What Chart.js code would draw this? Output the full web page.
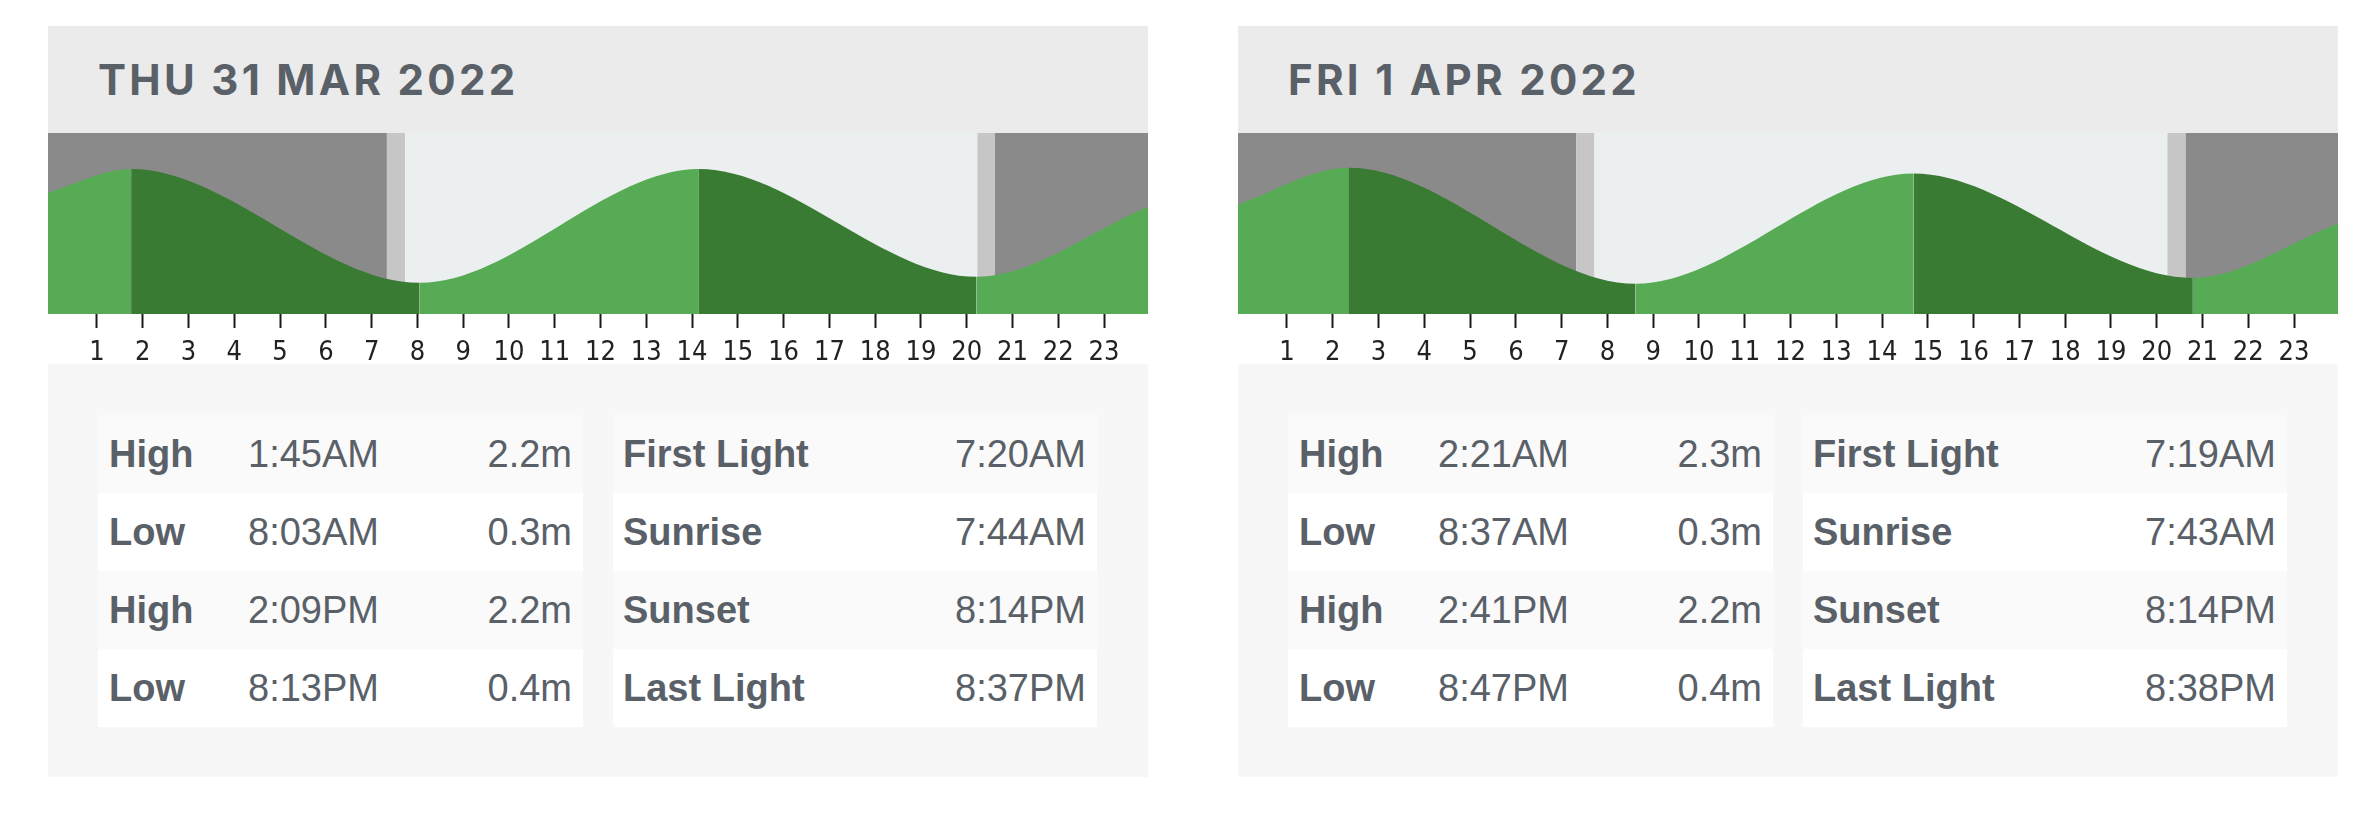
<!DOCTYPE html>
<html>
<head>
<meta charset="utf-8">
<script src="https://cdn.jsdelivr.net/npm/chart.js@4.4.1/dist/chart.umd.min.js"></script>
<style>
  body { margin: 0; background: #fff; width: 2367px; height: 816px; position: relative; overflow: hidden; }
  .day { position: absolute; top: 26px; width: 1100px; }
  .head { height: 107px; background: #ebebeb; display: flex; align-items: center; }
  .head h2 {
    margin: 0 0 0 50px; font-family: Inter, "Open Sans", sans-serif; font-weight: 700;
    font-size: 42px; letter-spacing: 3.3px; color: #5a6068;
  }
  .plot { position: relative; height: 231px; width: 1100px; background: #fff; }
  .info {
    background: #f7f7f7; height: 413px; box-sizing: border-box; padding: 51px 51px 0 50px;
    display: flex; justify-content: space-between; align-items: flex-start;
  }
  table { border-collapse: collapse; font-family: "Liberation Sans", Arial, sans-serif; font-size: 38px; color: #5a6068; }
  table.tides { width: 485px; }
  table.sun { width: 484px; }
  td { height: 78px; padding: 0; vertical-align: middle; line-height: 1; }
  tr:nth-child(odd) td { background: #fafafa; }
  tr:nth-child(even) td { background: #fff; }
  td.lbl { font-weight: bold; padding-left: 11px; }
  .tides td.lbl { width: 139px; }
  td.val { text-align: right; padding-right: 11px; }
  .sun td.lbl { padding-left: 10px; }
</style>
</head>
<body>

<div class="day" id="day1" style="left:48px">
  <div class="head"><h2 id="title1"></h2></div>
  <div class="plot"><canvas id="chart1"></canvas></div>
  <div class="info"><table class="tides" id="tides1"></table><table class="sun" id="sun1"></table></div>
</div>

<div class="day" id="day2" style="left:1238px">
  <div class="head"><h2 id="title2"></h2></div>
  <div class="plot"><canvas id="chart2"></canvas></div>
  <div class="info"><table class="tides" id="tides2"></table><table class="sun" id="sun2"></table></div>
</div>

<script>
// x axis tick labels (hours)
const hourTicks = [1, 2, 3, 4, 5, 6, 7, 8, 9, 10, 11, 12, 13, 14, 15, 16, 17, 18, 19, 20, 21, 22, 23]

// Thu 31 Mar 2022
const day1Title = "THU 31 MAR 2022"
const day1TideTypes = ["High", "Low", "High", "Low"]
const day1TideTimes = ["1:45AM", "8:03AM", "2:09PM", "8:13PM"]
const day1TideHeights = [2.2, 0.3, 2.2, 0.4]
const day1EdgeHeights = [1.80, 1.58]   // height at the left / right edge of the chart
const day1SunLabels = ["First Light", "Sunrise", "Sunset", "Last Light"]
const day1SunTimes = ["7:20AM", "7:44AM", "8:14PM", "8:37PM"]

// Fri 1 Apr 2022
const day2Title = "FRI 1 APR 2022"
const day2TideTypes = ["High", "Low", "High", "Low"]
const day2TideTimes = ["2:21AM", "8:37AM", "2:41PM", "8:47PM"]
const day2TideHeights = [2.3, 0.3, 2.2, 0.4]
const day2EdgeHeights = [1.66, 1.35]
const day2SunLabels = ["First Light", "Sunrise", "Sunset", "Last Light"]
const day2SunTimes = ["7:19AM", "7:43AM", "8:14PM", "8:38PM"]

const X_MIN = -0.07
const X_MAX = 23.96

const toHours = (s) => {
    const m = s.match(/(\d+):(\d+)(AM|PM)/)
    let h = parseInt(m[1]) % 12
    if (m[3] === "PM") h += 12
    return h + parseInt(m[2]) / 60
}

// night / twilight / day bands behind the tide
const daylightBands = {
    id: "daylightBands",
    beforeDatasetsDraw(chart, args, opts) {
        const {ctx, chartArea: a, scales: {x}} = chart
        const t = opts.times.map(toHours)
        const bands = [
            [X_MIN - 1, t[0], "#8a8a8a"],
            [t[0], t[1], "#c6c6c6"],
            [t[1], t[2], "#ebeff0"],
            [t[2], t[3], "#c6c6c6"],
            [t[3], X_MAX + 1, "#8a8a8a"]
        ]
        ctx.save()
        ctx.beginPath()
        ctx.rect(a.left, a.top, a.right - a.left, a.bottom - a.top)
        ctx.clip()
        bands.forEach(([from, to, color]) => {
            const x0 = x.getPixelForValue(from)
            const x1 = x.getPixelForValue(to)
            ctx.fillStyle = color
            ctx.fillRect(x0, a.top, x1 - x0, a.bottom - a.top)
        })
        ctx.restore()
    }
}

const create_chart = (canvasId, tideTimes, tideHeights, edgeHeights, sunTimes) => {
    const points = [{x: -0.1, y: edgeHeights[0]}]
    tideTimes.forEach((t, i) => points.push({x: toHours(t), y: tideHeights[i]}))
    points.push({x: 24, y: edgeHeights[1]})

    new Chart(document.getElementById(canvasId), {
        type: "line",
        data: {
            datasets: [{
                data: points,
                fill: "start",
                cubicInterpolationMode: "monotone",
                borderWidth: 0,
                borderColor: "rgba(0,0,0,0)",
                pointRadius: 0,
                segment: {
                    backgroundColor: c => c.p1.parsed.y >= c.p0.parsed.y ? "#58ab55" : "#3a7b34"
                }
            }]
        },
        options: {
            responsive: true,
            maintainAspectRatio: false,
            animation: false,
            layout: {padding: 0},
            plugins: {
                legend: {display: false},
                tooltip: {enabled: false},
                daylightBands: {times: sunTimes}
            },
            scales: {
                x: {
                    type: "linear",
                    min: X_MIN,
                    max: X_MAX,
                    afterBuildTicks: s => { s.ticks = hourTicks.map(v => ({value: v})) },
                    afterFit: s => { s.height = 50 },
                    border: {display: false},
                    grid: {drawOnChartArea: false, drawTicks: true, tickLength: 14, tickWidth: 2, tickColor: "#1a1a1a"},
                    ticks: {
                        padding: 9,
                        color: "#222",
                        autoSkip: false,
                        maxRotation: 0,
                        font: {family: "'Liberation Sans Narrow', 'Arial Narrow', 'DejaVu Sans Condensed', sans-serif", size: 27}
                    }
                },
                y: {
                    display: false,
                    min: -0.22,
                    max: Math.max(...tideHeights) + 0.6
                }
            }
        },
        plugins: [daylightBands]
    })
}

const fill_tables = (n, title, types, times, heights, sunLabels, sunTimes) => {
    document.getElementById("title" + n).textContent = title
    document.getElementById("tides" + n).innerHTML = types.map((t, i) =>
        `<tr><td class="lbl">${t}</td><td>${times[i]}</td><td class="val">${heights[i]}m</td></tr>`).join("")
    document.getElementById("sun" + n).innerHTML = sunLabels.map((l, i) =>
        `<tr><td class="lbl">${l}</td><td class="val">${sunTimes[i]}</td></tr>`).join("")
}

fill_tables(1, day1Title, day1TideTypes, day1TideTimes, day1TideHeights, day1SunLabels, day1SunTimes)
fill_tables(2, day2Title, day2TideTypes, day2TideTimes, day2TideHeights, day2SunLabels, day2SunTimes)
create_chart("chart1", day1TideTimes, day1TideHeights, day1EdgeHeights, day1SunTimes)
create_chart("chart2", day2TideTimes, day2TideHeights, day2EdgeHeights, day2SunTimes)
</script>
</body>
</html>
